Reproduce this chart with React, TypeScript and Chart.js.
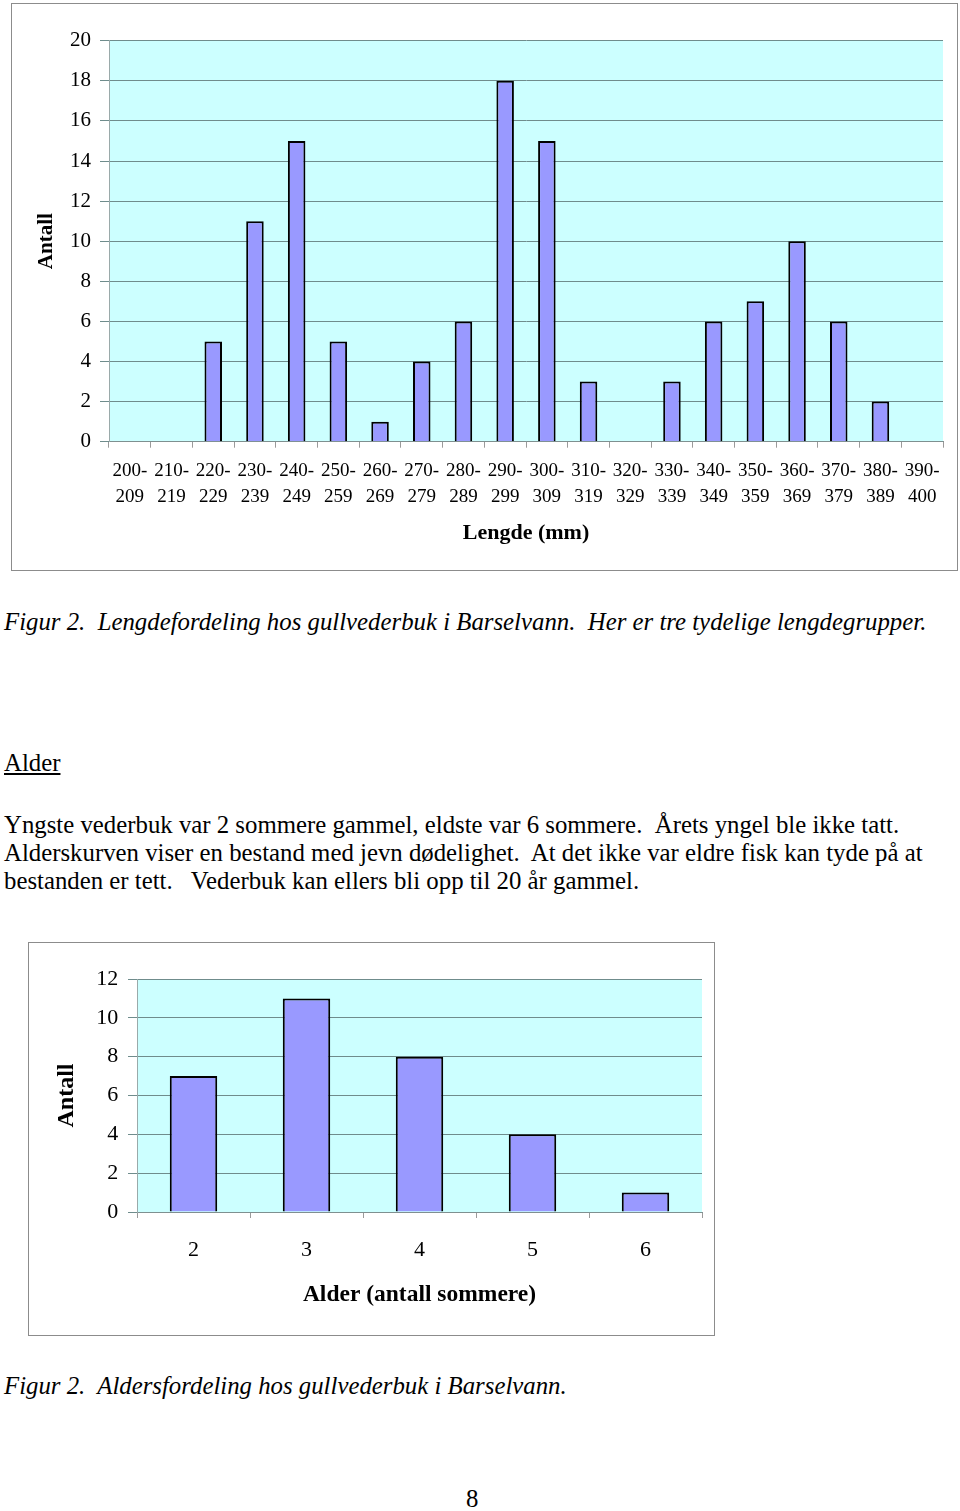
import React, { useEffect, useRef } from "react";
import { Chart, registerables } from "chart.js";

Chart.register(...registerables);

// ---------- Data ----------
const lengthCategories: string[][] = [
  ["200-", "209"], ["210-", "219"], ["220-", "229"], ["230-", "239"], ["240-", "249"],
  ["250-", "259"], ["260-", "269"], ["270-", "279"], ["280-", "289"], ["290-", "299"],
  ["300-", "309"], ["310-", "319"], ["320-", "329"], ["330-", "339"], ["340-", "349"],
  ["350-", "359"], ["360-", "369"], ["370-", "379"], ["380-", "389"], ["390-", "400"],
];
const lengthCounts: number[] = [0, 0, 5, 11, 15, 5, 1, 4, 6, 18, 15, 3, 0, 3, 6, 7, 10, 6, 2, 0];
const lengthYMax = 20;
const lengthYStep = 2;

const ageCategories: string[] = ["2", "3", "4", "5", "6"];
const ageCounts: number[] = [7, 11, 8, 4, 1];
const ageYMax = 12;
const ageYStep = 2;

const FONT = "'Liberation Serif', 'Times New Roman', Times, serif";

const plotBg = {
  id: "plotBg",
  beforeDraw(chart: any, _args: any, opts: any) {
    const { ctx, chartArea } = chart;
    if (!chartArea) return;
    ctx.save();
    ctx.fillStyle = opts.color || "#ccffff";
    ctx.fillRect(chartArea.left, chartArea.top, chartArea.right - chartArea.left, chartArea.bottom - chartArea.top);
    ctx.restore();
  },
};

type Cfg = {
  labels: any[];
  data: number[];
  yMax: number;
  yStep: number;
  barPct: number;
  pad: { top: number; right: number; bottom: number; left: number };
  yW: number;
  xH: number;
  yTickFont: number;
  xTickFont: number;
  xLineHeight: number;
  xTickPad: number;
  yTickPad: number;
  xTitle: string;
  xTitleFont: number;
  yTitleFont: number;
  yTitlePad: number;
};

function makeConfig(c: Cfg): any {
  return {
    type: "bar",
    data: {
      labels: c.labels,
      datasets: [
        {
          data: c.data,
          backgroundColor: "#9999ff",
          borderColor: "#000000",
          borderWidth: 2,
          barPercentage: c.barPct,
          categoryPercentage: 1,
        },
      ],
    },
    options: {
      animation: false,
      responsive: false,
      maintainAspectRatio: false,
      devicePixelRatio: 1,
      layout: { padding: c.pad },
      plugins: {
        legend: { display: false },
        tooltip: { enabled: false },
        plotBg: { color: "#ccffff" },
      },
      scales: {
        x: {
          grid: {
            offset: true,
            drawOnChartArea: false,
            drawTicks: true,
            tickLength: 6,
            color: "#9a9a9a",
          },
          border: { color: "#7f9090", width: 1 },
          ticks: {
            autoSkip: false,
            maxRotation: 0,
            minRotation: 0,
            color: "#000",
            padding: c.xTickPad,
            font: { family: FONT, size: c.xTickFont, lineHeight: c.xLineHeight },
          },
          title: {
            display: true,
            text: c.xTitle,
            color: "#000",
            padding: 0,
            font: { family: FONT, size: c.xTitleFont, weight: "bold", lineHeight: 1.2 },
          },
          afterFit(scale: any) {
            scale.height = c.xH;
          },
        },
        y: {
          min: 0,
          max: c.yMax,
          grid: {
            color: "#6f8c8c",
            lineWidth: 1,
            drawTicks: true,
            tickLength: 9,
          },
          border: { color: "#9aaaaa", width: 1 },
          ticks: {
            stepSize: c.yStep,
            color: "#000",
            padding: c.yTickPad,
            font: { family: FONT, size: c.yTickFont },
          },
          title: {
            display: true,
            text: "Antall",
            color: "#000",
            padding: { top: c.yTitlePad, bottom: 0 },
            font: { family: FONT, size: c.yTitleFont, weight: "bold", lineHeight: 1.2 },
          },
          afterFit(scale: any) {
            scale.width = c.yW;
          },
        },
      },
    },
    plugins: [plotBg],
  };
}

function BarChart({ cfg, width, height }: { cfg: Cfg; width: number; height: number }) {
  const ref = useRef<HTMLCanvasElement | null>(null);
  useEffect(() => {
    if (!ref.current) return;
    const chart = new Chart(ref.current, makeConfig(cfg));
    return () => chart.destroy();
  }, []);
  return <canvas ref={ref} width={width} height={height} style={{ width, height, display: "block" }} />;
}

const lengthCfg: Cfg = {
  labels: lengthCategories,
  data: lengthCounts,
  yMax: lengthYMax,
  yStep: lengthYStep,
  barPct: 0.42,
  pad: { top: 36.7, right: 14, bottom: 23.3, left: 0 },
  yW: 97,
  xH: 105,
  yTickFont: 21,
  xTickFont: 19,
  xLineHeight: 26 / 19,
  xTickPad: 10,
  yTickPad: 9,
  xTitle: "Lengde (mm)",
  xTitleFont: 22,
  yTitleFont: 21,
  yTitlePad: 22,
};

const ageCfg: Cfg = {
  labels: ageCategories,
  data: ageCounts,
  yMax: ageYMax,
  yStep: ageYStep,
  barPct: 0.42,
  pad: { top: 36, right: 12, bottom: 25.8, left: 0 },
  yW: 108,
  xH: 97.2,
  yTickFont: 22,
  xTickFont: 22,
  xLineHeight: 1.2,
  xTickPad: 19,
  yTickPad: 9.7,
  xTitle: "Alder (antall sommere)",
  xTitleFont: 23.5,
  yTitleFont: 24,
  yTitlePad: 23.6,
};

const textStyle: React.CSSProperties = {
  position: "absolute",
  left: 4,
  fontFamily: FONT,
  fontSize: 24.8,
  lineHeight: "28px",
  color: "#000",
  whiteSpace: "pre",
  margin: 0,
};

export default function App() {
  return (
    <div style={{ position: "absolute", left: 0, top: 0, width: 960, height: 1511, background: "#fff", overflow: "hidden" }}>
      <div style={{ position: "absolute", left: 11, top: 3, width: 945, height: 566, border: "1px solid #8c8c8c" }}>
        <BarChart cfg={lengthCfg} width={945} height={566} />
      </div>
      <div style={{ ...textStyle, top: 608, fontStyle: "italic" }}>
        {"Figur 2.  Lengdefordeling hos gullvederbuk i Barselvann.  Her er tre tydelige lengdegrupper."}
      </div>
      <div style={{ ...textStyle, top: 749, textDecoration: "underline" }}>{"Alder"}</div>
      <div style={{ ...textStyle, top: 811 }}>
        {"Yngste vederbuk var 2 sommere gammel, eldste var 6 sommere.  Årets yngel ble ikke tatt.\n" +
          "Alderskurven viser en bestand med jevn dødelighet.  At det ikke var eldre fisk kan tyde på at\n" +
          "bestanden er tett.   Vederbuk kan ellers bli opp til 20 år gammel."}
      </div>
      <div style={{ position: "absolute", left: 28, top: 942, width: 685, height: 392, border: "1px solid #8c8c8c" }}>
        <BarChart cfg={ageCfg} width={685} height={392} />
      </div>
      <div style={{ ...textStyle, top: 1372, fontStyle: "italic" }}>
        {"Figur 2.  Aldersfordeling hos gullvederbuk i Barselvann."}
      </div>
      <div style={{ ...textStyle, left: 466, top: 1485 }}>{"8"}</div>
    </div>
  );
}
